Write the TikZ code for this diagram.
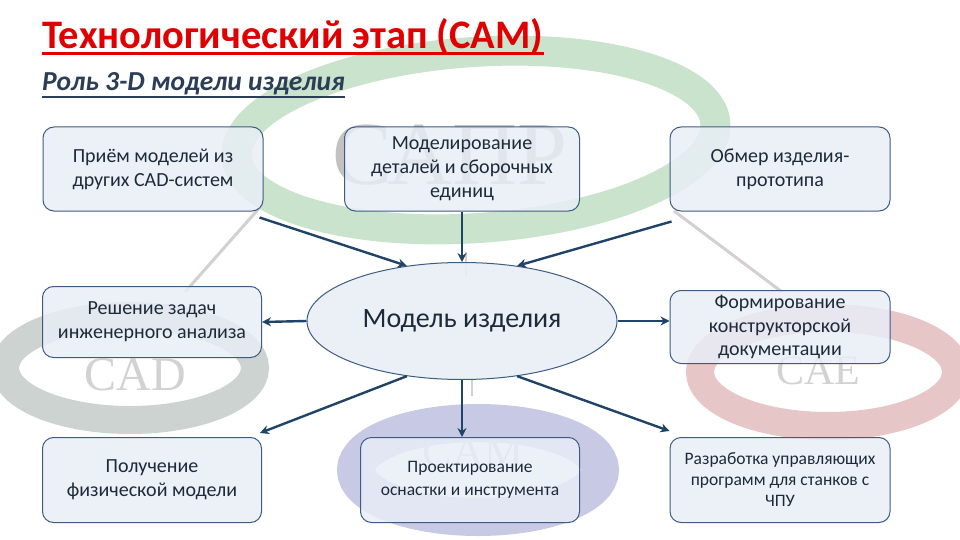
\documentclass[tikz,border=0pt]{standalone}
\usepackage{fontspec}
\setmainfont{Carlito}
\newfontfamily\logofont{Liberation Serif}
\usetikzlibrary{shapes.geometric,arrows.meta}
\definecolor{boxfill}{HTML}{E9EEF7}
\definecolor{boxdraw}{HTML}{3E5C82}
\definecolor{arrowcol}{HTML}{1F4468}
\definecolor{txtcol}{HTML}{1E2A3A}
\definecolor{titlered}{HTML}{E00000}
\definecolor{subcol}{HTML}{2C3E55}
\definecolor{ringgreen}{HTML}{C9E3CC}
\definecolor{ringgray}{HTML}{CDD3D0}
\definecolor{ringred}{HTML}{E6C6C6}
\definecolor{ringpurple}{HTML}{C8CAE5}
\definecolor{logogray}{HTML}{C2C2C2}
\definecolor{logolight}{HTML}{D2D2D2}
\definecolor{thinline}{HTML}{D6CFCF}
\tikzset{
  infobox/.style={draw=boxdraw, line width=1pt, fill=boxfill, fill opacity=0.82, text opacity=1,
    rounded corners=11pt, minimum width=220pt, minimum height=85pt, align=center,
    text=txtcol, font=\fontsize{20}{24}\selectfont, inner sep=2pt},
  centre/.style={ellipse, draw=boxdraw, line width=1pt, fill=boxfill, fill opacity=0.88, text opacity=1,
    minimum width=310pt, minimum height=117pt, text=txtcol, font=\fontsize{28}{30}\selectfont},
  conn/.style={draw=arrowcol, line width=2.4pt, -{Stealth[length=9pt,width=9pt]}},
  logo/.style={text=logogray, font=\logofont\fontsize{90}{92}\selectfont, inner sep=0pt},
  smalllogo/.style={text=logolight, font=\logofont\fontsize{#1}{50}\selectfont, inner sep=0pt},
  faint/.style={draw=thinline, line width=3pt}
}
\begin{document}
\begin{tikzpicture}[x=1pt,y=-1pt]
\useasboundingbox (0,0) rectangle (960,540);
\fill[white] (0,0) rectangle (960,540);
% background decoration rings
\draw[ringgreen, line width=30pt, rotate around={4:(476,140)}] (476,140) ellipse [x radius=240, y radius=88];
\draw[ringgray, line width=28pt] (130,368) ellipse [x radius=125, y radius=52];
\draw[ringred, line width=28pt] (828,372) ellipse [x radius=128, y radius=54];
\draw[ringpurple, line width=38pt] (478,470) ellipse [x radius=122, y radius=47];
\draw[faint] (262,205) -- (185,292);
\draw[faint] (674,211) -- (782,292);
\draw[faint, line width=2pt] (466,252) -- (466,276);
\draw[faint, line width=2pt] (472,380) -- (472,396);
\node[logo] (lsapr) at (450,155) {САПР};
\node[smalllogo=48] (lcad) at (135,375) {CAD};
\node[smalllogo=42] (lcae) at (818,371) {CAE};
\node[smalllogo=44] (lcam) at (473,452) {CAM};
% title
\node[anchor=base west, text=titlered, font=\bfseries\fontsize{40.5}{44}\selectfont, inner sep=0pt] (title) at (42,49)
  {Технологический этап (CAM)};
\draw[titlered, line width=2.2pt] ([yshift=-4.5pt]title.base west) -- ([yshift=-4.5pt]title.base east);
\node[anchor=base west, text=subcol, font=\bfseries\itshape\fontsize{27.5}{30}\selectfont, inner sep=0pt] (sub) at (42,91)
  {Роль 3-D модели изделия};
\draw[subcol, line width=1.6pt] ([yshift=-6pt]sub.base west) -- ([yshift=-6pt]sub.base east);
% nodes
\node[infobox, minimum width=220pt, minimum height=84pt] (b1) at (153,169) {Приём моделей из\\других CAD-систем};
\node[infobox, minimum width=235pt, minimum height=84pt] (b2) at (462,169) {Моделирование\\деталей и сборочных\\единиц};
\node[infobox, minimum width=220pt, minimum height=84pt] (b3) at (780,169) {Обмер изделия-\\прототипа};
\node[infobox, minimum width=219pt, minimum height=71pt] (b4) at (152,322) {Решение задач\\инженерного анализа};
\node[centre] (m) at (462,321) {Модель изделия};
\node[infobox, minimum width=220pt, minimum height=73pt, font=\fontsize{20}{23.5}\selectfont] (b6) at (780,327) {Формирование\\конструкторской\\документации};
\node[infobox, minimum width=219pt, minimum height=85pt] (b7) at (152,480) {Получение\\физической модели};
\node[infobox, minimum width=219pt, minimum height=85pt, font=\fontsize{17.5}{23}\selectfont] (b8) at (470,480) {Проектирование\\оснастки и инструмента};
\node[infobox, minimum width=220pt, minimum height=85pt, font=\fontsize{17.5}{21}\selectfont] (b9) at (780,480) {Разработка управляющих\\программ для станков с\\ЧПУ};
% connectors
\coordinate (c1) at ([xshift=-4pt,yshift=-6pt]b1.south east);
\coordinate (c3) at ([xshift=2pt,yshift=-10pt]b3.south west);
\draw[conn] (c1) -- (m.135);
\draw[conn] (b2.south) -- (m.north);
\draw[conn] (c3) -- (m.45);
\draw[conn] (m.west) -- (b4.east);
\draw[conn] (m.east) -- (b6.west |- m.east);
\draw[conn] (m.225) -- ([xshift=-2pt,yshift=4pt]b7.north east);
\draw[conn] (m.south) -- (b8.north -| m.south);
\draw[conn] (m.315) -- ([yshift=6pt]b9.north west);
\end{tikzpicture}
\end{document}
